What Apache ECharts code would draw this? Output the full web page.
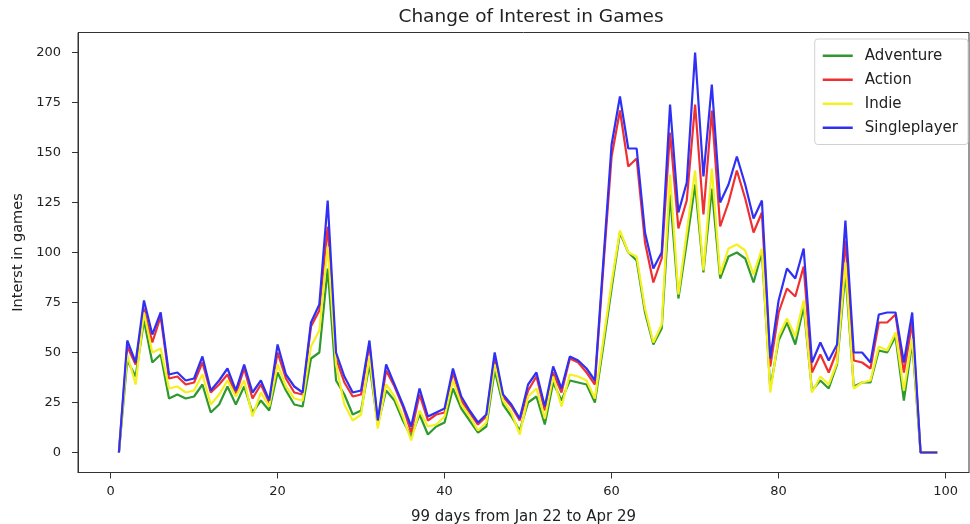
<!DOCTYPE html>
<html>
<head>
<meta charset="utf-8">
<script src="https://cdn.jsdelivr.net/npm/echarts@6/dist/echarts.min.js"></script>
<style>
html,body{margin:0;padding:0;background:#fff;}
#c{width:970px;height:524px;}
</style>
</head>
<body>
<div id="c"></div>
<script>
const days = Array.from({length: 99}, (_, i) => i + 1);
const adventure = [0,46,38,66,45,49,27,29,27,28,34,20,24,33,24,33,20,26,21,40,
  31,24,23,47,50,92,36,29,19,21,44,14,31,26,16,8,19,9,13,15,
  32,22,16,10,13,41,24,18,11,25,28,14,35,26,36,35,34,25,53,82,
  110,100,96,70,54,62,129,77,105,134,90,132,87,98,100,97,85,100,32,56,
  65,54,73,31,36,32,44,90,33,35,35,51,50,58,26,55,0,0,0];
const action = [0,53,44,72,55,68,37,38,34,35,45,30,34,39,29,42,27,34,25,50,
  37,30,29,63,71,113,47,35,28,29,54,15,41,33,23,10,29,16,19,20,
  40,26,20,14,18,48,28,23,16,31,38,21,40,30,47,45,40,34,92,148,
  171,143,147,105,85,97,160,112,126,174,119,171,113,125,141,127,110,120,43,70,
  82,78,93,40,49,40,51,106,46,45,42,65,65,69,40,65,0,0,0];
const indie = [0,49,34,70,50,52,32,33,30,31,39,24,29,36,28,36,18,30,23,44,
  33,27,26,53,61,103,44,24,16,19,48,12,34,28,18,6,21,13,14,18,
  36,24,18,11,15,44,26,20,9,28,32,17,38,23,39,38,36,27,56,85,
  111,100,98,72,55,64,139,79,110,141,91,142,89,102,104,101,89,102,30,58,
  67,58,76,30,38,34,45,95,32,35,36,53,51,60,31,57,0,0,0];
const singleplayer = [0,56,45,76,59,70,39,40,36,37,48,31,36,42,31,44,30,36,26,54,
  39,33,30,65,74,126,50,38,30,31,56,16,44,34,24,13,32,18,20,22,
  42,28,21,15,19,50,29,24,17,34,40,23,43,32,48,46,42,36,95,154,
  178,152,152,110,92,100,174,120,135,200,138,184,125,134,148,134,117,126,47,76,
  92,87,102,45,55,46,54,116,50,50,45,69,70,70,45,70,0,0,0];

const seriesNames = ['Adventure', 'Action', 'Indie', 'Singleplayer'];
const seriesColors = ['#2e992e', '#f03030', '#f5f020', '#3030f5'];
const seriesValues = [adventure, action, indie, singleplayer];
const xTicks = [0, 20, 40, 60, 80, 100];
const yTicks = [0, 25, 50, 75, 100, 125, 150, 175, 200];

const FONT = 'DejaVu Sans';
const chart = echarts.init(document.getElementById('c'), null, {renderer: 'canvas'});
chart.setOption({
  animation: false,
  backgroundColor: '#ffffff',
  title: {
    text: 'Change of Interest in Games',
    left: 526, top: 3, textAlign: 'center',
    textStyle: {fontFamily: FONT, fontSize: 18.5, fontWeight: 'normal', color: '#222'}
  },
  legend: {
    orient: 'vertical', right: 2, top: 39,
    data: seriesNames,
    icon: 'rect',
    itemWidth: 30, itemHeight: 2.5, itemGap: 6.5,
    padding: [8, 10, 8, 8],
    borderColor: '#d0d0d0', borderWidth: 1, borderRadius: 3,
    backgroundColor: 'rgba(255,255,255,0.85)',
    textStyle: {fontFamily: FONT, fontSize: 15, color: '#222', padding: [0, 0, 0, 7], lineHeight: 17.5}
  },
  grid: {left: 78, right: 1, top: 32.5, bottom: 51.5, show: true, borderColor: '#333', borderWidth: 1,
    outerBoundsMode: 'none', containLabel: false},
  xAxis: {
    type: 'value', min: -3.9, max: 102.8,
    name: '99 days from Jan 22 to Apr 29', nameLocation: 'middle', nameGap: 37,
    nameTextStyle: {fontFamily: FONT, fontSize: 15, color: '#222'},
    axisLine: {show: true, onZero: false, lineStyle: {color: '#333'}},
    axisTick: {show: true, length: 6, customValues: xTicks, lineStyle: {color: '#333'}},
    axisLabel: {customValues: xTicks, fontFamily: FONT, fontSize: 13, color: '#222', margin: 13},
    splitLine: {show: false}
  },
  yAxis: {
    type: 'value', min: -10, max: 210,
    name: 'Interst in games', nameLocation: 'middle', nameGap: 52, nameRotate: 90,
    nameTextStyle: {fontFamily: FONT, fontSize: 14.5, color: '#222'},
    axisLine: {show: true, onZero: false, lineStyle: {color: '#333'}},
    axisTick: {show: true, length: 6, customValues: yTicks, lineStyle: {color: '#333'}},
    axisLabel: {customValues: yTicks, fontFamily: FONT, fontSize: 13, color: '#222', margin: 17},
    splitLine: {show: false}
  },
  series: seriesNames.map((n, k) => ({
    name: n, type: 'line', symbol: 'none',
    data: days.map((d, i) => [d, seriesValues[k][i]]),
    lineStyle: {width: 2.2, color: seriesColors[k]},
    itemStyle: {color: seriesColors[k]},
    z: 2 + k
  }))
});
</script>
</body>
</html>
